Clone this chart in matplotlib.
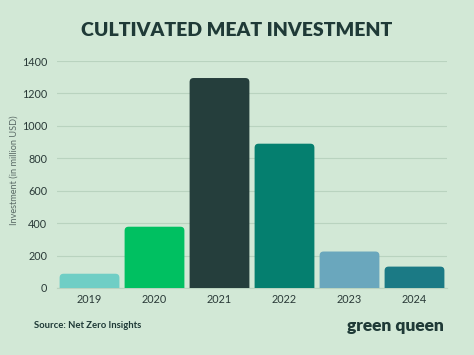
import matplotlib
matplotlib.use("Agg")
import matplotlib.pyplot as plt
from matplotlib.patches import FancyBboxPatch

years = ["2019", "2020", "2021", "2022", "2023", "2024"]
investment = [88, 378, 1295, 890, 225, 132]
bar_colors = ["#6fcec5", "#00c061", "#253e3c", "#057f6f", "#6aa7bd", "#1b7a85"]
yticks = [0, 200, 400, 600, 800, 1000, 1200, 1400]

bg = "#d2e8d6"
dark = "#1f3a37"
plt.rcParams["font.family"] = ["Lato", "DejaVu Sans"]

W, H = 474, 355
fig = plt.figure(figsize=(W / 100, H / 100), dpi=100, facecolor=bg)
ax = fig.add_axes([57 / W, 1 - 288 / H, (447 - 57) / W, (288 - 61) / H])
ax.set_facecolor(bg)

x = list(range(len(years)))
bars = ax.bar(x, investment, width=0.92, color=bar_colors)
ax.set_xlim(-0.5, len(years) - 0.5)
ax.set_ylim(0, 1400)

# Replace rectangles with rounded-top boxes
px_x = (447 - 57) / len(years)
px_y = (288 - 61) / 1400
r = 4.0
for b, c in zip(bars, bar_colors):
    b.set_visible(False)
    x0, w, h = b.get_x(), b.get_width(), b.get_height()
    rs = r / px_x
    asp = px_x / px_y
    patch = FancyBboxPatch((x0 + rs, -60 + rs * asp), w - 2 * rs, h + 60 - 2 * rs * asp,
                           boxstyle=f"round,pad={rs},rounding_size={rs}",
                           mutation_aspect=asp, facecolor=c, edgecolor="none",
                           zorder=3, clip_on=True)
    ax.add_patch(patch)

ax.set_yticks(yticks)
ax.set_yticklabels([str(v) for v in yticks])
ax.set_xticks(x)
ax.set_xticklabels(years)
ax.grid(axis="y", color="#b9d3bf", linewidth=0.8, zorder=0)
ax.set_axisbelow(True)
for s in ["top", "right", "left"]:
    ax.spines[s].set_visible(False)
ax.spines["bottom"].set_color("#b9d3bf")
ax.spines["bottom"].set_linewidth(0.8)
ax.tick_params(axis="both", length=0, labelsize=7.8, colors="#2a3a38")
ax.tick_params(axis="y", pad=7)
ax.tick_params(axis="x", pad=4)

ax.set_ylabel("Investment (in million USD)", fontsize=6.6, color="#5a6a66")
ax.yaxis.set_label_coords(-38 / (447 - 57), 0.52)

fig.text(237 / W, 1 - 30 / H, "CULTIVATED MEAT INVESTMENT", ha="center", va="center",
         fontsize=14, fontweight="heavy", color=dark)
fig.text(34 / W, 1 - 326 / H, "Source: Net Zero Insights", ha="left", va="center",
         fontsize=6.8, fontweight="bold", color=dark)
fig.text(444 / W, 1 - 326 / H, "green queen", ha="right", va="center",
         fontsize=12.5, fontweight="heavy", color=dark)

fig.savefig("out.png", dpi=100, facecolor=bg)
